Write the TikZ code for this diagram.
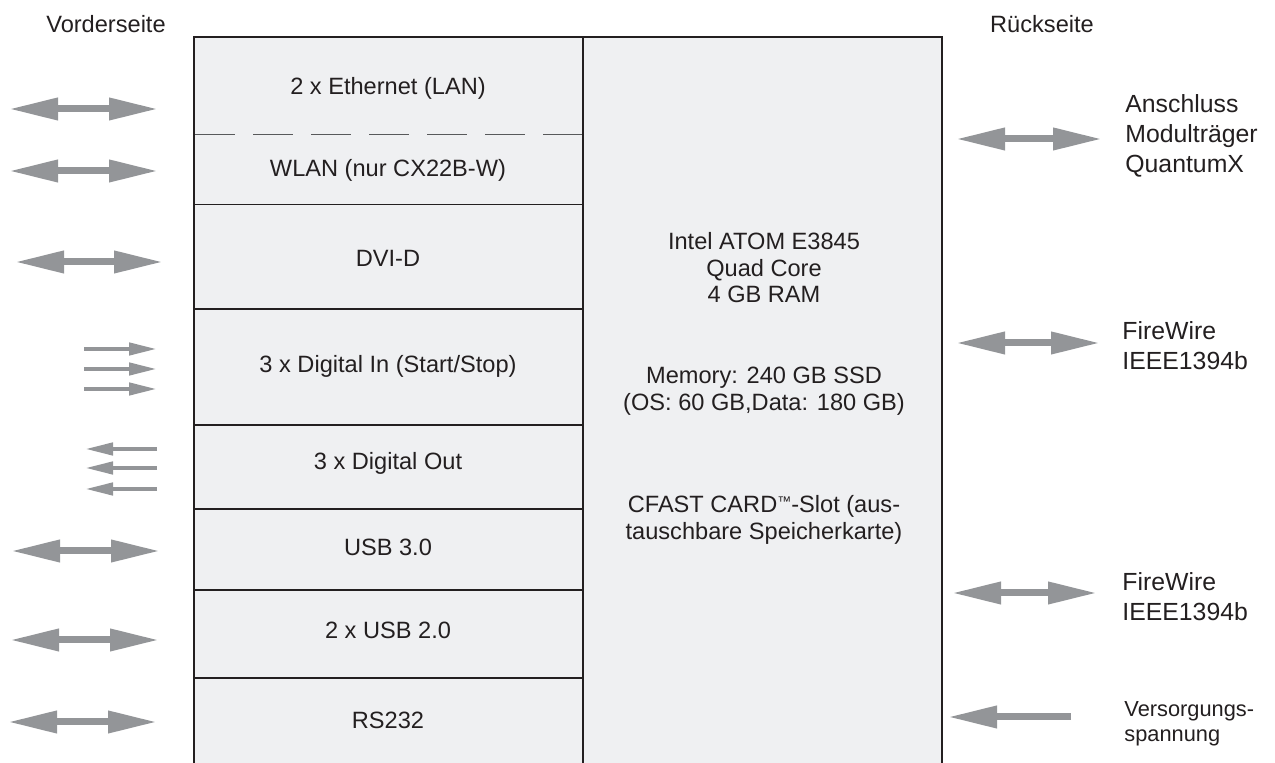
\documentclass[tikz,border=0pt]{standalone}
\usepackage{fontspec}
\setmainfont{Liberation Sans}
\usetikzlibrary{arrows.meta}
\definecolor{boxfill}{HTML}{EFF0F2}
\definecolor{arrgray}{HTML}{939598}
\definecolor{edgecol}{HTML}{231F20}
\definecolor{dashcol}{HTML}{58595B}
\begin{document}
\begin{tikzpicture}[x=0.5pt,y=-0.5pt,
  lbl/.style={font=\fontsize{11.8}{13.25}\selectfont, text=edgecol, align=center, inner sep=0pt},
  biglbl/.style={font=\fontsize{12.4}{14.9}\selectfont, text=edgecol, align=left, inner sep=0pt, anchor=west},
  smalllbl/.style={font=\fontsize{10.9}{12.5}\selectfont, text=edgecol, align=left, inner sep=0pt, anchor=west},
  framestyle/.style={draw=edgecol, line width=1pt},
  sepline/.style={draw=edgecol, line width=0.9pt},
  thinsep/.style={draw=edgecol, line width=0.45pt},
  dashsep/.style={draw=dashcol, line width=0.5pt, dash pattern=on 20pt off 9pt},
  dblarrow/.style={draw=arrgray, line width=3.5pt,
    {Triangle[length=24.5pt,width=10.5pt]}-{Triangle[length=24.5pt,width=10.5pt]}},
  onearrow/.style={draw=arrgray, line width=3.5pt, -{Triangle[length=24.5pt,width=10.5pt]}},
  smallarrow/.style={draw=arrgray, line width=2.2pt, -{Triangle[length=14pt,width=6pt]}}
]
\useasboundingbox (0,0) rectangle (1275,763);
\clip (0,0) rectangle (1275,763);

% box fill and lines
\fill[boxfill] (194,37) rectangle (942,790);
\draw[dashsep] (195,135) -- (583,135);
\draw[thinsep] (194,204) -- (583,204);
\foreach \yy in {309,425,509,590,678} \draw[sepline] (194,\yy) -- (583,\yy);
\draw[framestyle] (194,790) -- (194,37) -- (942,37) -- (942,790);
\draw[framestyle] (583,37) -- (583,790);

% headings
\node[lbl] (vorder) at (106,24) {Vorderseite};
\node[lbl] (rueck) at (1042,24) {Rückseite};

% left column texts
\node[lbl] (eth) at (388,88) {2 x Ethernet (LAN)};
\node[lbl] (wlan) at (388,170) {WLAN (nur CX22B-W)};
\node[lbl] (dvi) at (388,258) {DVI-D};
\node[lbl] (din) at (388,366) {3 x Digital In (Start/Stop)};
\node[lbl] (dout) at (388,463) {3 x Digital Out};
\node[lbl] (usb3) at (388,547) {USB 3.0};
\node[lbl] (usb2) at (388,630) {2 x USB 2.0};
\node[lbl] (rs) at (388,720) {RS232};

% right column texts
\node[lbl] (cpu) at (764,268) {Intel ATOM E3845\\Quad Core\\4 GB RAM};
\node[lbl] (mem) at (764,391) {Memory: 240 GB SSD\\(OS: 60 GB,Data: 180 GB)};
\node[lbl] (cf) at (764,520) {CFAST CARD\raisebox{0.25em}{\fontsize{7}{7}\selectfont ™}-Slot (aus-\\tauschbare Speicherkarte)};

% right labels
\node[biglbl] (qx) at (1125,136) {Anschluss\\Modulträger\\QuantumX};
\node[biglbl] (fw1) at (1122,346) {FireWire\\IEEE1394b};
\node[biglbl] (fw2) at (1122,597) {FireWire\\IEEE1394b};
\node[smalllbl] (vs) at (1124,724) {Versorgungs-\\spannung};

% left arrows
\coordinate (a1l) at (9,109);   \coordinate (a1r) at (158,109);
\coordinate (a2l) at (9,171);   \coordinate (a2r) at (158,171);
\coordinate (a3l) at (15,262);  \coordinate (a3r) at (163,262);
\coordinate (a6l) at (11,551);  \coordinate (a6r) at (160,551);
\coordinate (a7l) at (10,640);  \coordinate (a7r) at (159,640);
\coordinate (a8l) at (8,722);   \coordinate (a8r) at (157,722);
\draw[dblarrow] (a1l) -- (a1r);
\draw[dblarrow] (a2l) -- (a2r);
\draw[dblarrow] (a3l) -- (a3r);
\draw[dblarrow] (a6l) -- (a6r);
\draw[dblarrow] (a7l) -- (a7r);
\draw[dblarrow] (a8l) -- (a8r);

% digital in / out arrows
\foreach \yy [count=\i] in {349,369,389} {
  \coordinate (di\i s) at (84,\yy); \coordinate (di\i e) at (157,\yy);
  \draw[smallarrow] (di\i s) -- (di\i e);
}
\foreach \yy [count=\i] in {449,468,489} {
  \coordinate (do\i s) at (157,\yy); \coordinate (do\i e) at (85,\yy);
  \draw[smallarrow] (do\i s) -- (do\i e);
}

% right arrows
\coordinate (r1l) at (956,139);  \coordinate (r1r) at (1102,139);
\coordinate (r2l) at (956,343);  \coordinate (r2r) at (1100,343);
\coordinate (r3l) at (952,593);  \coordinate (r3r) at (1097,593);
\coordinate (r4s) at (1071,717); \coordinate (r4e) at (948,717);
\draw[dblarrow] (r1l) -- (r1r);
\draw[dblarrow] (r2l) -- (r2r);
\draw[dblarrow] (r3l) -- (r3r);
\draw[onearrow] (r4s) -- (r4e);
\end{tikzpicture}
\end{document}
